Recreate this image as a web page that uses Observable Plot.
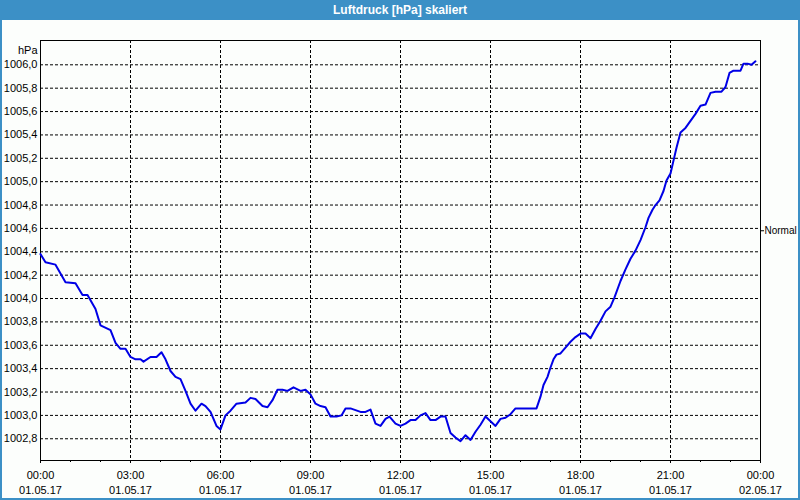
<!DOCTYPE html>
<html>
<head>
<meta charset="utf-8">
<script src="https://cdn.jsdelivr.net/npm/d3@7"></script>
<script src="https://cdn.jsdelivr.net/npm/@observablehq/plot@0.6"></script>
<style>
  html, body { margin: 0; padding: 0; background: #fcfefc; }
  #title { width: 800px; height: 20px; background: #3c90c6; color: #fff;
           font: bold 12px "Liberation Sans", Arial, sans-serif; line-height: 20px; text-align: center; }
  #frame { width: 800px; height: 480px; box-sizing: border-box; border: 2px solid #3c90c6; border-top: 0; background: #fcfefc; }
  #frame svg { display: block; overflow: visible; }
</style>
</head>
<body>
<div id="title">Luftdruck [hPa] skaliert</div>
<div id="frame"></div>
<script>
// minutes after 01.05.17 00:00
const minutes = [0,10,30,50,70,84,94,110,120,140,150,160,170,180,190,200,206,220,232,242,250,260,270,280,290,300,310,322,330,340,352,360,370,380,392,410,420,430,444,454,464,474,484,494,506,520,530,540,550,560,570,580,592,602,610,620,640,650,660,670,680,690,698,710,720,730,740,750,760,770,780,790,800,810,820,830,840,850,860,870,880,890,900,910,920,930,940,950,970,986,992,1000,1006,1014,1020,1026,1032,1040,1050,1060,1070,1080,1090,1100,1110,1120,1130,1140,1148,1160,1170,1180,1190,1200,1210,1216,1224,1230,1238,1246,1252,1260,1266,1272,1280,1290,1300,1310,1320,1330,1340,1350,1362,1370,1378,1386,1400,1406,1414,1422,1430];
const hPa = [1004.38,1004.31,1004.29,1004.14,1004.13,1004.03,1004.03,1003.91,1003.77,1003.73,1003.62,1003.57,1003.57,1003.50,1003.48,1003.48,1003.46,1003.50,1003.50,1003.54,1003.48,1003.38,1003.33,1003.31,1003.21,1003.10,1003.04,1003.10,1003.08,1003.03,1002.91,1002.88,1003.00,1003.04,1003.10,1003.11,1003.15,1003.14,1003.08,1003.07,1003.13,1003.22,1003.22,1003.21,1003.24,1003.21,1003.22,1003.18,1003.10,1003.08,1003.07,1002.99,1002.99,1003.00,1003.06,1003.06,1003.03,1003.03,1003.05,1002.93,1002.91,1002.97,1002.99,1002.93,1002.91,1002.93,1002.96,1002.96,1003.00,1003.02,1002.96,1002.96,1002.99,1002.99,1002.85,1002.81,1002.78,1002.83,1002.79,1002.86,1002.92,1002.99,1002.95,1002.91,1002.97,1002.98,1003.01,1003.06,1003.06,1003.06,1003.06,1003.16,1003.26,1003.33,1003.41,1003.48,1003.52,1003.53,1003.58,1003.63,1003.67,1003.70,1003.70,1003.66,1003.74,1003.81,1003.89,1003.93,1004.01,1004.15,1004.25,1004.34,1004.41,1004.50,1004.61,1004.69,1004.76,1004.80,1004.84,1004.92,1005.01,1005.07,1005.18,1005.29,1005.42,1005.46,1005.52,1005.58,1005.65,1005.66,1005.76,1005.77,1005.77,1005.81,1005.93,1005.95,1005.95,1006.01,1006.01,1006.00,1006.03];

const yTicks = [1002.8,1003.0,1003.2,1003.4,1003.6,1003.8,1004.0,1004.2,1004.4,1004.6,1004.8,1005.0,1005.2,1005.4,1005.6,1005.8,1006.0];
const timeLabels = ["00:00","03:00","06:00","09:00","12:00","15:00","18:00","21:00","00:00"];
const dateLabels = ["01.05.17","01.05.17","01.05.17","01.05.17","01.05.17","01.05.17","01.05.17","01.05.17","02.05.17"];
const unitLabel = "hPa";
const normalValue = 1004.58;
const normalLabel = "Normal";

const start = Date.UTC(2017, 4, 1, 0, 0);
const toDate = m => new Date(start + m * 60000);
const points = minutes.map((m, i) => ({t: toDate(m), v: hPa[i]}));
const majorDates = timeLabels.map((_, i) => toDate(i * 180));
const hourDates = d3.range(0, 25).map(h => toDate(h * 60));
const fmt = v => v.toFixed(1).replace(".", ",");

const chart = Plot.plot({
  width: 796,
  height: 478,
  marginLeft: 38,
  marginRight: 38,
  marginTop: 20,
  marginBottom: 38,
  style: {fontFamily: "'Liberation Sans', Arial, sans-serif", fontSize: "11px", background: "#fcfefc", color: "#000", overflow: "visible"},
  x: {type: "utc", domain: [toDate(0), toDate(1440)]},
  y: {domain: [1002.614, 1006.208]},
  marks: [
    Plot.ruleY(yTicks, {y: d => d, stroke: "#000", strokeDasharray: "3,2"}),
    Plot.ruleX(majorDates.slice(1, -1), {x: d => d, stroke: "#000", strokeDasharray: "3,2"}),
    Plot.frame({stroke: "#000"}),
    Plot.axisX({ticks: hourDates, tickSize: 2, tickFormat: () => "", label: null}),
    Plot.axisX({ticks: majorDates, tickSize: 3, tickFormat: () => "", label: null}),
    Plot.text(majorDates, {x: d => d, frameAnchor: "bottom", dy: 15, lineAnchor: "middle", text: (d, i) => timeLabels[i], fill: "#000"}),
    Plot.text(majorDates, {x: d => d, frameAnchor: "bottom", dy: 29.5, lineAnchor: "middle", text: (d, i) => dateLabels[i], fill: "#000"}),
    Plot.text(yTicks, {y: d => d, frameAnchor: "left", dx: -3, textAnchor: "end", text: fmt, fill: "#000"}),
    Plot.text([unitLabel], {frameAnchor: "top-left", dx: -3, dy: 6, textAnchor: "end", text: d => d, fill: "#000"}),
    Plot.axisY({anchor: "right", ticks: [normalValue], tickSize: 3, tickPadding: 1, fontSize: 10, tickFormat: () => normalLabel, label: null}),
    Plot.line(points, {x: "t", y: "v", stroke: "#0000e6", strokeWidth: 2})
  ]
});
document.getElementById("frame").appendChild(chart);
</script>
</body>
</html>
